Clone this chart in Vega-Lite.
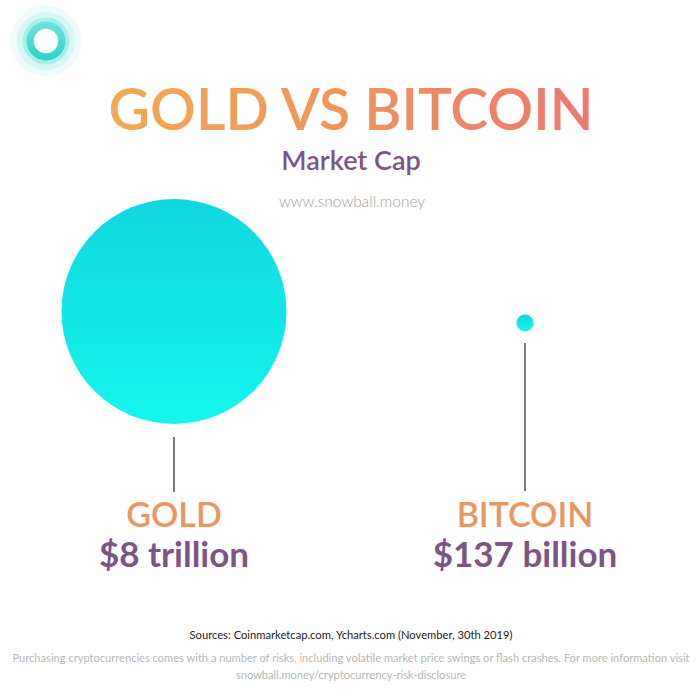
{
  "$schema": "https://vega.github.io/schema/vega-lite/v6.json",
  "width": 700,
  "height": 700,
  "autosize": {"type": "fit", "contains": "padding"},
  "padding": 0,
  "background": "#ffffff",
  "config": {"view": {"stroke": null}, "axis": {"disable": true}, "legend": {"disable": true}},
  "datasets": {
    "assets": [
      {"asset": "Gold", "label": "GOLD", "cap_usd_billion": 8000, "cap_text": "$8 trillion"},
      {"asset": "Bitcoin", "label": "BITCOIN", "cap_usd_billion": 137, "cap_text": "$137 billion"}
    ],
    "texts": [
      {"role": "title", "text": "GOLD VS BITCOIN"},
      {"role": "subtitle", "text": "Market Cap"},
      {"role": "url", "text": "www.snowball.money"},
      {"role": "sources", "text": "Sources: Coinmarketcap.com, Ycharts.com (November, 30th 2019)"},
      {"role": "disc1", "text": "Purchasing cryptocurrencies comes with a number of risks, including volatile market price swings or flash crashes. For more information visit"},
      {"role": "disc2", "text": "snowball.money/cryptocurrency-risk-disclosure"}
    ]
  },
  "resolve": {"scale": {"x": "independent", "y": "independent", "size": "independent"}},
  "layer": [
    {
      "layer": [
        {
          "data": {"values": [{"logo": "snowball"}]},
          "mark": {"type": "point", "shape": "circle", "filled": true, "color": "#effcfb", "opacity": 1, "size": 5041},
          "encoding": {"x": {"datum": 46, "type": "quantitative", "scale": {"domain": [0, 700], "range": [0, 700]}}, "y": {"datum": 41, "type": "quantitative", "scale": {"domain": [0, 700], "range": [0, 700]}}}
        },
        {
          "data": {"values": [{"logo": "snowball"}]},
          "mark": {"type": "point", "shape": "circle", "filled": true, "color": "#d6f7f4", "opacity": 1, "size": 3364},
          "encoding": {"x": {"datum": 46, "type": "quantitative"}, "y": {"datum": 41, "type": "quantitative"}}
        },
        {
          "data": {"values": [{"logo": "snowball"}]},
          "mark": {"type": "point", "shape": "circle", "filled": true, "color": "#a8efe9", "opacity": 1, "size": 2209},
          "encoding": {"x": {"datum": 46, "type": "quantitative"}, "y": {"datum": 41, "type": "quantitative"}}
        },
        {
          "data": {"values": [{"logo": "snowball"}]},
          "mark": {"type": "point", "shape": "circle", "filled": true, "opacity": 1, "size": 1521,
            "color": {"gradient": "linear", "x1": 0, "y1": 0, "x2": 0, "y2": 1, "stops": [{"offset": 0, "color": "#6fe3dc"}, {"offset": 1, "color": "#2cd3cc"}]}},
          "encoding": {"x": {"datum": 46, "type": "quantitative"}, "y": {"datum": 41, "type": "quantitative"}}
        },
        {
          "data": {"values": [{"logo": "snowball"}]},
          "mark": {"type": "point", "shape": "circle", "filled": true, "color": "#ffffff", "opacity": 1, "size": 600},
          "encoding": {"x": {"datum": 46, "type": "quantitative"}, "y": {"datum": 41, "type": "quantitative"}}
        },
        {
          "data": {"name": "texts"},
          "transform": [{"filter": "datum.role === 'title'"}],
          "mark": {"type": "text", "font": "Lato", "fontWeight": 600, "fontSize": 57, "align": "center", "baseline": "alphabetic",
            "color": {"gradient": "linear", "x1": 0, "y1": 0, "x2": 1, "y2": 0, "stops": [{"offset": 0, "color": "#f1aa52"}, {"offset": 0.5, "color": "#f0935c"}, {"offset": 1, "color": "#ee7771"}]}},
          "encoding": {"x": {"datum": 351, "type": "quantitative"}, "y": {"datum": 130, "type": "quantitative"}, "text": {"field": "text"}}
        },
        {
          "data": {"name": "texts"},
          "transform": [{"filter": "datum.role === 'subtitle'"}],
          "mark": {"type": "text", "font": "Lato", "fontWeight": 600, "fontSize": 27, "align": "center", "baseline": "alphabetic", "color": "#7b5586"},
          "encoding": {"x": {"datum": 351, "type": "quantitative"}, "y": {"datum": 170, "type": "quantitative"}, "text": {"field": "text"}}
        },
        {
          "data": {"name": "texts"},
          "transform": [{"filter": "datum.role === 'url'"}],
          "mark": {"type": "text", "font": "Lato", "fontWeight": 300, "fontSize": 15.5, "align": "center", "baseline": "alphabetic", "color": "#a0a0a0"},
          "encoding": {"x": {"datum": 352, "type": "quantitative"}, "y": {"datum": 207, "type": "quantitative"}, "text": {"field": "text"}}
        },
        {
          "data": {"name": "texts"},
          "transform": [{"filter": "datum.role === 'sources'"}],
          "mark": {"type": "text", "font": "Lato", "fontSize": 11.2, "align": "center", "baseline": "alphabetic", "color": "#222222"},
          "encoding": {"x": {"datum": 351, "type": "quantitative"}, "y": {"datum": 639, "type": "quantitative"}, "text": {"field": "text"}}
        },
        {
          "data": {"name": "texts"},
          "transform": [{"filter": "datum.role === 'disc1'"}],
          "mark": {"type": "text", "font": "Lato", "fontSize": 11.1, "align": "center", "baseline": "alphabetic", "color": "#b8b8b8"},
          "encoding": {"x": {"datum": 351, "type": "quantitative"}, "y": {"datum": 662, "type": "quantitative"}, "text": {"field": "text"}}
        },
        {
          "data": {"name": "texts"},
          "transform": [{"filter": "datum.role === 'disc2'"}],
          "mark": {"type": "text", "font": "Lato", "fontSize": 11.1, "align": "center", "baseline": "alphabetic", "color": "#b8b8b8"},
          "encoding": {"x": {"datum": 351, "type": "quantitative"}, "y": {"datum": 679, "type": "quantitative"}, "text": {"field": "text"}}
        },
        {
          "data": {"name": "assets"},
          "transform": [{"filter": "datum.asset === 'Gold'"}],
          "mark": {"type": "rule", "color": "#222222", "strokeWidth": 1.2},
          "encoding": {"x": {"datum": 174, "type": "quantitative"}, "y": {"datum": 437, "type": "quantitative"}, "y2": {"datum": 492}}
        },
        {
          "data": {"name": "assets"},
          "transform": [{"filter": "datum.asset === 'Bitcoin'"}],
          "mark": {"type": "rule", "color": "#222222", "strokeWidth": 1.2},
          "encoding": {"x": {"datum": 525, "type": "quantitative"}, "y": {"datum": 343, "type": "quantitative"}, "y2": {"datum": 491}}
        }
      ]
    },
    {
      "data": {"name": "assets"},
      "resolve": {"scale": {"y": "independent"}},
      "layer": [
        {
          "mark": {"type": "point", "shape": "circle", "filled": true, "opacity": 1, "strokeWidth": 0,
            "color": {"gradient": "linear", "x1": 0, "y1": 0, "x2": 0, "y2": 1, "stops": [{"offset": 0, "color": "#10d7de"}, {"offset": 1, "color": "#15f6ee"}]}},
          "encoding": {
            "x": {"field": "asset", "type": "nominal", "scale": {"type": "point", "domain": ["Gold", "Bitcoin"], "range": [174, 525], "padding": 0}},
            "y": {"field": "asset", "type": "nominal", "scale": {"type": "point", "domain": ["Gold", "Bitcoin"], "range": [311.5, 323], "padding": 0}},
            "size": {"field": "cap_usd_billion", "type": "quantitative", "scale": {"type": "linear", "domain": [137, 8000], "range": [289, 50625], "zero": false}}
          }
        },
        {
          "layer": [
            {
              "mark": {"type": "text", "font": "Lato", "fontWeight": 600, "fontSize": 34, "align": "center", "baseline": "alphabetic", "color": "#ec955d"},
              "encoding": {
                "x": {"field": "asset", "type": "nominal"},
                "y": {"datum": 527, "type": "quantitative", "scale": {"domain": [0, 700], "range": [0, 700]}},
                "text": {"field": "label"}
              }
            },
            {
              "mark": {"type": "text", "font": "Lato", "fontWeight": "bold", "fontSize": 35, "align": "center", "baseline": "alphabetic", "color": "#7b5586"},
              "encoding": {
                "x": {"field": "asset", "type": "nominal"},
                "y": {"datum": 567, "type": "quantitative"},
                "text": {"field": "cap_text"}
              }
            }
          ]
        }
      ]
    }
  ]
}
